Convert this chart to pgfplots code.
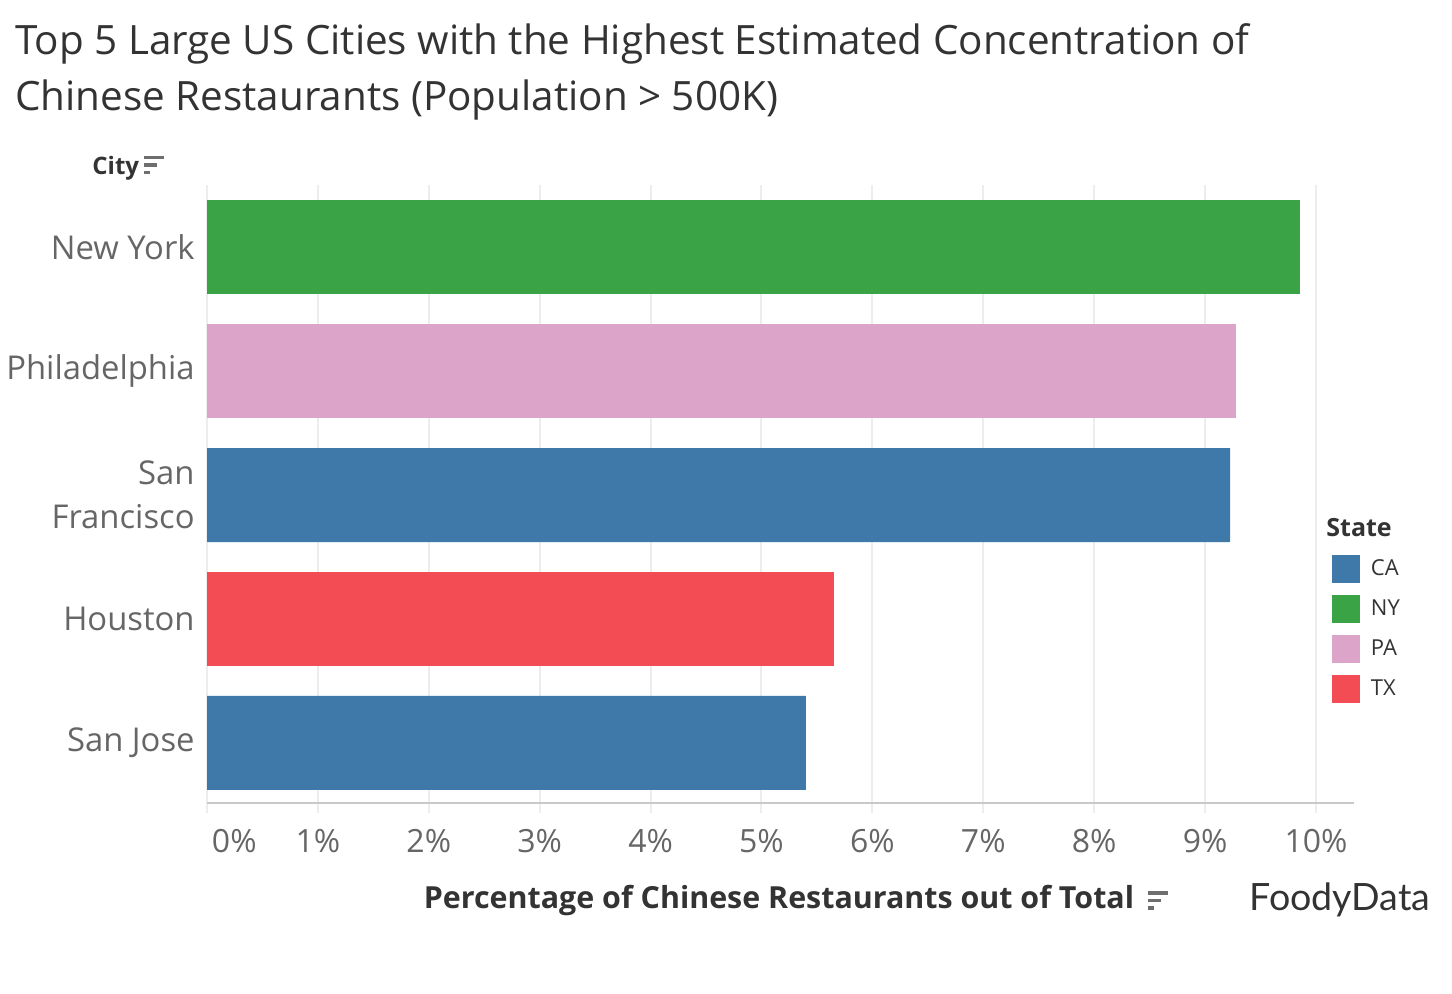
\documentclass[border=0pt]{standalone}
\usepackage{fontspec}
\setmainfont{Open Sans}
\newfontfamily\lato{Lato}
\usepackage{pgfplots}
\pgfplotsset{compat=1.18}
\definecolor{caBlue}{HTML}{3E79A9}
\definecolor{nyGreen}{HTML}{3AA346}
\definecolor{paPink}{HTML}{DCA4C9}
\definecolor{txRed}{HTML}{F44C55}
\definecolor{gridc}{HTML}{EDEDED}
\definecolor{tickc}{HTML}{666666}
\definecolor{textc}{HTML}{333333}
\definecolor{iconc}{HTML}{6E6E6E}

\begin{document}
\begin{tikzpicture}[x=0.5pt,y=-0.5pt]
\useasboundingbox (0,0) rectangle (1452,994);
% title
\node[anchor=base west, inner sep=0pt, font=\fontsize{20.2}{24}\selectfont, text=textc] at (15,55) {Top 5 Large US Cities with the Highest Estimated Concentration of};
\node[anchor=base west, inner sep=0pt, font=\fontsize{20.2}{24}\selectfont, text=textc] at (15,111) {Chinese Restaurants (Population > 500K)};
% City header + sort icon
\node[anchor=west, inner sep=0pt, font=\fontsize{12}{14}\selectfont\bfseries, text=textc] at (92,168) {City};
\fill[iconc] (144,156) rectangle (164,159.5);
\fill[iconc] (144,163.5) rectangle (157,167);
\fill[iconc] (144,171) rectangle (150,174.5);
% x label + sort icon
\node[anchor=center, inner sep=0pt, font=\fontsize{15.2}{17}\selectfont\bfseries, text=textc] at (779,901) {Percentage of Chinese Restaurants out of Total};
\fill[iconc] (1148,891) rectangle (1168,894.5);
\fill[iconc] (1148,898.5) rectangle (1161,902);
\fill[iconc] (1148,906) rectangle (1154,909.5);
% logo
\node[anchor=center, inner sep=0pt, font=\lato\fontsize{18.8}{21}\selectfont, text=textc] at (1340,900) {FoodyData};
% legend title
\node[anchor=west, inner sep=0pt, font=\fontsize{12.5}{14}\selectfont\bfseries, text=textc] at (1326,528) {State};

\begin{axis}[
  at={(103.5pt,-401.5pt)}, anchor=south west,
  scale only axis, width=573.5pt, height=309pt,
  xbar, bar shift=0pt, bar width=47pt,
  xmin=0, xmax=10.343, ymin=-0.5, ymax=4.484, y dir=reverse,
  axis x line*=bottom, axis y line*=left,
  x axis line style={draw=gridc!85!black!100, line width=1pt},
  y axis line style={draw=none},
  xmajorgrids, grid style={gridc, line width=1pt},
  xtick={0,1,2,3,4,5,6,7,8,9,10},
  xticklabels={\rlap{\hspace{2.5pt}0\%},1\%,2\%,3\%,4\%,5\%,6\%,7\%,8\%,9\%,10\%},
  xtick style={draw=gridc, line width=1pt},
  tick align=outside, major tick length=5pt,
  xticklabel style={inner sep=0pt, yshift=-8pt, text=tickc, font=\fontsize{16}{19}\selectfont},
  ytick={0,1,2,3,4},
  yticklabels={New York,Philadelphia,San\\Francisco,Houston,San Jose},
  ytick style={draw=none},
  yticklabel style={inner sep=0pt, xshift=-1pt, align=right, text=tickc, font=\fontsize{16.4}{22}\selectfont},
  legend style={at={(rel axis cs:0.9808,0.4013)}, anchor=north west, draw=none, fill=none,
    inner sep=0pt, outer sep=0pt, row sep=6pt, column sep=5.5pt,
    font=\fontsize{11}{13}\selectfont, text=textc, nodes={inner sep=0pt}},
  legend cell align=left,
  legend image code/.code={\path[#1, draw=none] (0pt,-7pt) rectangle (14pt,7pt);},
]
\addplot[fill=caBlue, draw=none] coordinates {(9.225,2) (5.401,4)};
\addplot[fill=nyGreen, draw=none] coordinates {(9.856,0)};
\addplot[fill=paPink, draw=none] coordinates {(9.279,1)};
\addplot[fill=txRed, draw=none] coordinates {(5.654,3)};
\legend{CA,NY,PA,TX}
\end{axis}
\end{tikzpicture}
\end{document}
